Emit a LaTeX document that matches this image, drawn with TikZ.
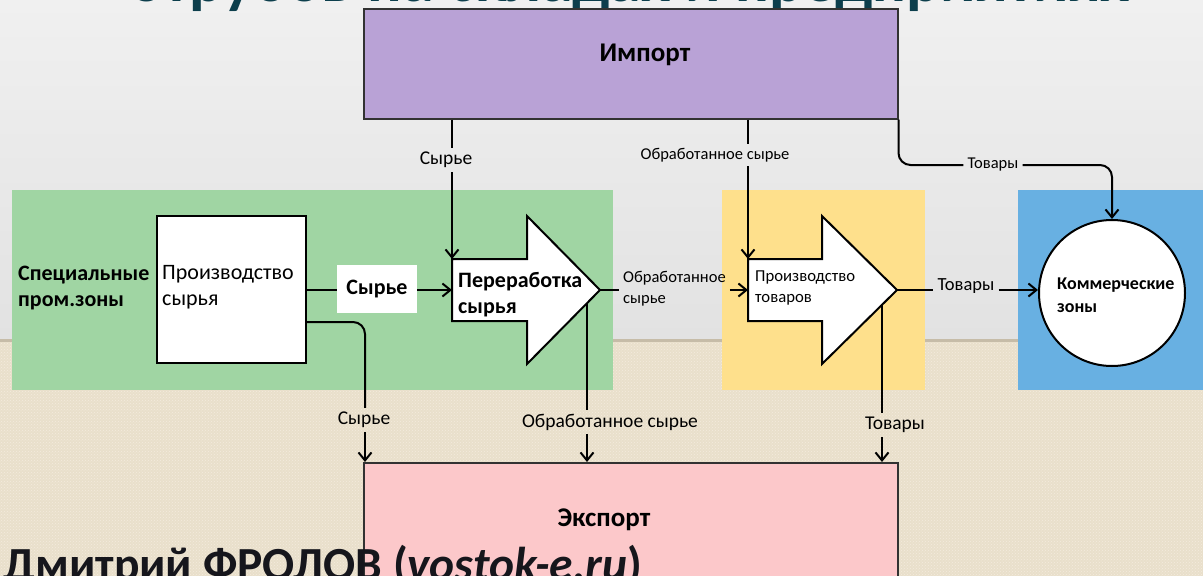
\documentclass[tikz,border=0pt]{standalone}
\usepackage{fontspec}
\setmainfont{Carlito}
\usetikzlibrary{arrows.meta,calc,patterns}
\definecolor{bgtop}{RGB}{240,240,240}
\definecolor{bgbot}{RGB}{226,226,226}
\definecolor{beige}{RGB}{233,223,203}
\definecolor{beigedot}{RGB}{243,236,222}
\definecolor{seam}{RGB}{198,188,168}
\definecolor{impc}{RGB}{185,162,214}
\definecolor{expc}{RGB}{252,200,202}
\definecolor{greenc}{RGB}{160,213,163}
\definecolor{yellowc}{RGB}{254,224,140}
\definecolor{bluec}{RGB}{104,176,226}
\definecolor{titlec}{RGB}{12,62,76}
\definecolor{authc}{RGB}{22,22,28}
\definecolor{framec}{RGB}{50,50,50}
\newcommand{\twol}[2]{\begin{tabular}[t]{@{}l@{}}#1\\#2\end{tabular}}
\tikzset{
  zone/.style={draw=none,inner sep=0,anchor=north west},
  mainbox/.style={draw=framec,line width=1.5pt,inner sep=0,anchor=north west},
  whitebox/.style={draw=black,line width=2pt,fill=white,inner sep=0,anchor=north west},
  bigarrow/.style={draw=black,line width=2pt,fill=white,line join=miter},
  txt/.style={inner sep=0,text=black},
  lab/.style={inner sep=4pt,text=black},
  conn/.style={draw=black,line width=2pt},
  arr/.style={-{Straight Barb[length=8pt,width=13pt]}},
  f27b/.style={font=\bfseries\fontsize{27}{30}\selectfont},
  f22b/.style={font=\bfseries\fontsize{22}{26}\selectfont},
  f22/.style={font=\fontsize{22}{26}\selectfont},
  f20/.style={font=\fontsize{19.5}{22}\selectfont},
  f18/.style={font=\fontsize{18.5}{22}\selectfont},
  f18b/.style={font=\bfseries\fontsize{18}{23}\selectfont},
  f17/.style={font=\fontsize{16.7}{21}\selectfont},
  f16/.style={font=\fontsize{16.5}{21}\selectfont},
}
\begin{document}
\begin{tikzpicture}[x=1pt,y=-1pt]
\useasboundingbox (0,0) rectangle (1203,576);
\clip (0,0) rectangle (1203,576);
% background
\shade[top color=bgtop,bottom color=bgbot] (0,0) rectangle (1203,340);
\fill[beige] (0,340) rectangle (1203,576);
\fill[pattern=crosshatch dots,pattern color=beigedot] (0,340) rectangle (1203,576);
\fill[seam] (0,339) rectangle (1203,342);
% title (clipped)
\node[anchor=base,inner sep=0,text=titlec,font=\bfseries\fontsize{64}{64}\selectfont] (title) at (630,1) {отрубов на складах и предприятиях};
% zones
\node[zone,fill=greenc,minimum width=601,minimum height=200] (gz) at (12,190) {};
\node[zone,fill=yellowc,minimum width=203,minimum height=200] (yz) at (722,190) {};
\node[zone,fill=bluec,minimum width=190,minimum height=200] (bz) at (1018,190) {};
% import / export
\node[mainbox,fill=impc,minimum width=534,minimum height=110] (imp) at (363,8) {};
\node[txt,f27b] (impt) at (645,55) {Импорт};
\node[mainbox,fill=expc,minimum width=534,minimum height=140] (exp) at (363,462) {};
\node[txt,f27b] (expt) at (604,520) {Экспорт};
% special zones text
\node[txt,f22b,anchor=base west] (spec) at (18,280) {\twol{Специальные}{пром.зоны}};
% production of raw
\node[whitebox,minimum width=149,minimum height=147] (prod) at (156,215) {};
\node[txt,f22,anchor=base west] (prodt) at (162,279) {\twol{Производство}{сырья}};
% processing arrow
\coordinate (procTL) at (452,259);
\coordinate (procW) at (452,290);
\coordinate (procTip) at (600,290);
\coordinate (procBot) at (587,303);
\draw[bigarrow] (procTL) -- (527,259) -- (527,216) -- (procTip) -- (527,364) -- (527,321) -- (452,321) -- cycle;
\node[txt,f22b,anchor=base west] (proct) at (458,287) {\twol{Переработка}{сырья}};
% goods arrow
\coordinate (gdsTL) at (748,259);
\coordinate (gdsW) at (748,290);
\coordinate (gdsTip) at (897,290);
\coordinate (gdsBot) at (882,304);
\draw[bigarrow] (gdsTL) -- (822,259) -- (822,216) -- (gdsTip) -- (822,364) -- (822,321) -- (748,321) -- cycle;
\node[txt,f17,anchor=base west] (gdst) at (755,281) {\twol{Производство}{товаров}};
% commercial zones
\node[circle,draw=black,line width=2pt,fill=white,minimum size=146,inner sep=0] (circ) at (1112,293) {};
\node[txt,f18b,anchor=base west] (circt) at (1057,289) {\twol{Коммерческие}{зоны}};
% labels
\node[draw=none,fill=white,minimum width=80,minimum height=48,inner sep=0,f22b] (lbS1) at (377,289) {Сырье};
\node[lab,f20] (lbS0) at (446,160) {Сырье};
\node[lab,f16] (lbO0) at (715,155) {Обработанное сырье};
\node[lab,f16] (lbT0) at (993,165) {Товары};
\node[lab,f16,anchor=north west] (lbO1) at (619,264) {\twol{Обработанное}{сырье}};
\node[lab,f18] (lbT1) at (966,286) {Товары};
\node[lab,f20] (lbS2) at (364,420) {Сырье};
\node[lab,f20] (lbO2) at (610,422) {Обработанное сырье};
\node[lab,f20] (lbT2) at (895,425) {Товары};
% author (clipped)
\node[anchor=base west,inner sep=0,text=authc,font=\bfseries\fontsize{47.5}{48}\selectfont] (auth) at (3,580) {Дмитрий ФРОЛОВ (\textit{vostok-e.ru})};
% connectors
\coordinate (xS) at (452,0);
\coordinate (xS2) at (365,0);
\draw[conn] (imp.south -| xS) -- (lbS0.north -| xS);
\draw[conn,arr] (lbS0.south -| xS) -- (procTL);
\draw[conn] (imp.south -| gdsTL) -- (lbO0.north -| gdsTL);
\draw[conn,arr] (lbO0.south -| gdsTL) -- (gdsTL);
\draw[conn,rounded corners=12] (imp.south east) |- (lbT0.west);
\draw[conn,arr,rounded corners=12] (lbT0.east) -| (circ.north);
\coordinate (prodE1) at (305,290);
\draw[conn] (prodE1) -- (lbS1.west |- prodE1);
\draw[conn,arr] (lbS1.east |- prodE1) -- (procW);
\draw[conn] (procTip) -- (lbO1.west |- procTip);
\draw[conn,arr] (lbO1.east |- procTip) -- (gdsW);
\draw[conn] (gdsTip) -- (lbT1.west |- gdsTip);
\draw[conn,arr] (lbT1.east |- gdsTip) -- (circ.west |- gdsTip);
\coordinate (prodE2) at (305,322);
\draw[conn,rounded corners=12] (prodE2) -| (lbS2.north -| xS2);
\draw[conn,arr] (lbS2.south -| xS2) -- (xS2 |- exp.north);
\draw[conn] (procBot) -- (procBot |- lbO2.north);
\draw[conn,arr] (procBot |- lbO2.south) -- (procBot |- exp.north);
\draw[conn] (gdsBot) -- (gdsBot |- lbT2.north);
\draw[conn,arr] (gdsBot |- lbT2.south) -- (gdsBot |- exp.north);
\end{tikzpicture}
\end{document}
